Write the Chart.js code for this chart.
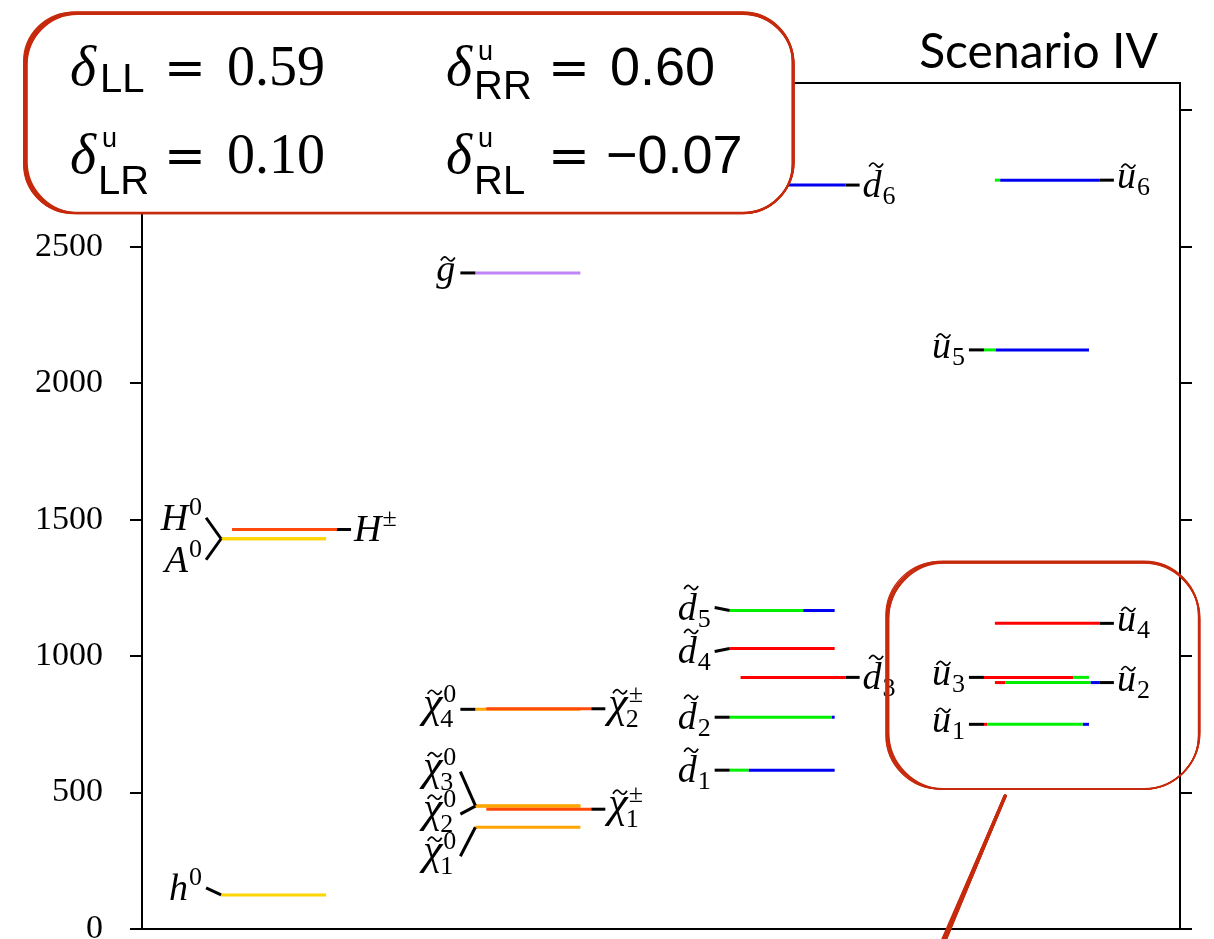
<!DOCTYPE html>
<html>
<head>
<meta charset="utf-8">
<title>Scenario IV</title>
<script src="https://cdn.jsdelivr.net/npm/chart.js@4.4.0/dist/chart.umd.min.js"></script>
<style>
  html, body { margin: 0; padding: 0; background: #fff; }
  canvas { display: block; }
</style>
</head>
<body>
<canvas id="myChart" width="1214" height="939"></canvas>
<script>
// mass spectrum, GeV
const particles = ['h0', 'H0', 'A0', 'Hpm', 'chi10', 'chi20', 'chi30', 'chi40', 'chi1pm', 'chi2pm', 'gluino',
  'd1', 'd2', 'd3', 'd4', 'd5', 'd6', 'u1', 'u2', 'u3', 'u4', 'u5', 'u6'];
const masses = [125, 1430, 1430, 1464, 373, 450, 452, 805, 439, 807, 2404,
  582, 776, 922, 1028, 1167, 2726, 750, 903, 922, 1120, 2122, 2744];
const column = [0, 0, 0, 0, 1, 1, 1, 1, 1, 1, 1, 2, 2, 2, 2, 2, 2, 3, 3, 3, 3, 3, 3];
const kind = ['Hn', 'Hn', 'Hn', 'Hc', 'N', 'N', 'N', 'N', 'C', 'C', 'g',
  'sq', 'sq', 'sq', 'sq', 'sq', 'sq', 'sq', 'sq', 'sq', 'sq', 'sq', 'sq'];
// squark flavour content (red / green / blue parts of the line)
const fracR = [0, 0, 0, 0, 0, 0, 0, 0, 0, 0, 0, 0, 0, 1, 1, 0, 0, 0.03, 0.10, 0.85, 1, 0, 0];
const fracG = [0, 0, 0, 0, 0, 0, 0, 0, 0, 0, 0, 0.18, 0.97, 0, 0, 0.70, 0, 0.91, 0.81, 0.15, 0, 0.11, 0.05];
const fracB = [0, 0, 0, 0, 0, 0, 0, 0, 0, 0, 0, 0.82, 0.03, 0, 0, 0.30, 1, 0.06, 0.09, 0, 0, 0.89, 0.95];

// label text
const labelBase = ['h', 'H', 'A', 'H', 'χ', 'χ', 'χ', 'χ', 'χ', 'χ', 'g',
  'd', 'd', 'd', 'd', 'd', 'd', 'u', 'u', 'u', 'u', 'u', 'u'];
const labelSub = ['', '', '', '', '1', '2', '3', '4', '1', '2', '',
  '1', '2', '3', '4', '5', '6', '1', '2', '3', '4', '5', '6'];
const labelSup = ['0', '0', '0', '±', '0', '0', '0', '0', '±', '±', '',
  '', '', '', '', '', '', '', '', '', '', '', ''];

const yTicks = [0, 500, 1000, 1500, 2000, 2500, 3000];
const deltas = [['LL', '', '0.59'], ['RR', 'u', '0.60'], ['LR', 'u', '0.10'], ['RL', 'u', '−0.07']];

// layout
const rightLabelled = ['Hpm', 'chi1pm', 'chi2pm', 'd3', 'd6', 'u2', 'u4', 'u6'];
const labelDy = { h0: -7, H0: -21, A0: 21, chi10: 29, chi20: 8, chi30: -34, d4: 3, d5: -3 };
const LEN = 0.413, SHIFT = 0.043;
const kindColor = { Hn: '#FFD400', Hc: '#FF4A0A', N: '#FFA500', C: '#FF4A0A', g: '#C084F8' };
const RGB = ['#FF0000', '#00F000', '#0000F0'];

const datasets = [];
particles.forEach((p, i) => {
  const right = rightLabelled.includes(p);
  const x0 = column[i] + (right ? SHIFT : 0);
  let parts;
  if (kind[i] === 'sq') {
    parts = [[RGB[0], fracR[i]], [RGB[1], fracG[i]], [RGB[2], fracB[i]]].filter(s => s[1] > 0);
  } else {
    parts = [[kindColor[kind[i]], 1]];
  }
  let x = x0;
  parts.forEach(s => {
    const x1 = x + s[1] * LEN;
    datasets.push({
      data: [{ x: x, y: masses[i] }, { x: x1, y: masses[i] }],
      borderColor: s[0],
      borderWidth: 3,
      borderCapStyle: 'butt',
      showLine: true,
      pointRadius: 0,
      order: right ? 0 : 1
    });
    x = x1;
  });
});

function drawTilde(ctx, cx, cy, w) {
  ctx.save();
  ctx.lineWidth = 1.7;
  ctx.strokeStyle = '#000';
  ctx.beginPath();
  ctx.moveTo(cx - w / 2, cy + 1.5);
  ctx.bezierCurveTo(cx - w / 4, cy - 4, cx - w / 8, cy - 2, cx, cy);
  ctx.bezierCurveTo(cx + w / 8, cy + 2, cx + w / 4, cy + 4, cx + w / 2, cy - 1.5);
  ctx.stroke();
  ctx.restore();
}

function drawMath(ctx, x, y, i, align) {
  const base = labelBase[i], sub = labelSub[i], sup = labelSup[i];
  const bf = base === 'χ' ? 'italic 44px "Liberation Serif"' : 'italic 38px "Liberation Serif"';
  const sf = '26px "Liberation Serif"';
  ctx.font = bf;
  const bw = ctx.measureText(base).width;
  ctx.font = sf;
  const sw = Math.max(ctx.measureText(sub).width, ctx.measureText(sup).width);
  const x0 = align === 'right' ? x - (bw + 1 + sw) : x;
  const asc = 'hHAd'.includes(base);
  const bl = y + (asc ? 12 : 8);
  ctx.fillStyle = '#000';
  ctx.textAlign = 'left';
  ctx.textBaseline = 'alphabetic';
  ctx.font = bf;
  ctx.fillText(base, x0, bl);
  ctx.font = sf;
  if (sup) ctx.fillText(sup, x0 + bw + 1, bl - 15);
  if (sub) ctx.fillText(sub, x0 + bw + 1 - (base === 'χ' ? 3 : 0), bl + (sup ? 10 : 7));
  if ('χgdu'.includes(base)) {
    drawTilde(ctx, x0 + bw / 2 + (asc ? 4 : 2), bl - (asc ? 32 : base === 'χ' ? 25 : 22), 14);
  }
}

const labelsPlugin = {
  id: 'labels',
  afterDatasetsDraw(chart) {
    const ctx = chart.ctx, xs = chart.scales.x, ys = chart.scales.y;
    ctx.save();
    particles.forEach((p, i) => {
      const right = rightLabelled.includes(p);
      const x0 = column[i] + (right ? SHIFT : 0);
      const y = ys.getPixelForValue(masses[i]);
      const dy = labelDy[p] || 0;
      ctx.strokeStyle = '#000';
      ctx.lineWidth = 3;
      ctx.lineCap = 'butt';
      ctx.beginPath();
      if (right) {
        const xe = xs.getPixelForValue(x0 + LEN);
        ctx.moveTo(xe, y);
        ctx.lineTo(xe + 14, y + dy);
        ctx.stroke();
        drawMath(ctx, xe + 17, y + dy, i, 'left');
      } else {
        const xb = xs.getPixelForValue(x0);
        ctx.moveTo(xb - 15, y + dy);
        ctx.lineTo(xb, y);
        ctx.stroke();
        drawMath(ctx, xb - 19, y + dy, i, 'right');
      }
    });
    ctx.restore();
  }
};

function sketchBox(ctx, x, y, w, h, r, fill, lw) {
  const offs = [[0, 0], [0.8, 0.6], [-0.7, 0.9], [0.5, -0.8], [1.3, 1.2], [-1.1, -0.4], [1.8, 0.2]];
  ctx.save();
  if (fill) {
    ctx.fillStyle = '#fff';
    ctx.beginPath();
    ctx.roundRect(x, y, w, h, r);
    ctx.fill();
  }
  ctx.strokeStyle = '#C62A0C';
  ctx.lineWidth = lw;
  offs.forEach(o => {
    ctx.beginPath();
    ctx.roundRect(x + o[0], y + o[1], w - o[0] * 0.5, h - o[1] * 0.7, r + o[0]);
    ctx.stroke();
  });
  ctx.restore();
}

const decorPlugin = {
  id: 'decor',
  afterDraw(chart) {
    const ctx = chart.ctx;
    // title
    ctx.save();
    ctx.fillStyle = '#000';
    ctx.font = '48px Lato';
    ctx.textAlign = 'right';
    ctx.textBaseline = 'alphabetic';
    ctx.fillText('Scenario IV', 1158, 68);
    ctx.restore();

    sketchBox(ctx, 25, 13, 768, 200, 50, true, 1.8);
    sketchBox(ctx, 887, 562, 312, 227, 55, false, 1.3);

    // pointer stroke
    ctx.save();
    ctx.strokeStyle = '#C62A0C';
    ctx.lineCap = 'round';
    [[0, 3], [1.5, 3], [-1, 2.5], [2.5, 2], [0.8, 3.5], [3.2, 1.5]].forEach(o => {
      ctx.lineWidth = o[1];
      ctx.beginPath();
      ctx.moveTo(1005 + o[0] * 0.2, 796);
      ctx.lineTo(941 + o[0], 945);
      ctx.stroke();
    });
    ctx.restore();

    // delta box text
    const rows = [[85, 92, 60], [173, 187, 147]];
    const cols = [70, 446];
    ctx.save();
    ctx.fillStyle = '#000';
    ctx.textAlign = 'left';
    ctx.textBaseline = 'alphabetic';
    deltas.forEach((d, k) => {
      const r = rows[Math.floor(k / 2)], cx = cols[k % 2];
      ctx.font = 'italic 56px "Liberation Serif"';
      ctx.fillText('δ', cx, r[0]);
      ctx.font = '27px "Liberation Sans"';
      if (d[1]) ctx.fillText(d[1], cx + 32, r[2]);
      ctx.font = '40px "Liberation Sans"';
      ctx.fillText(d[0], cx + (d[1] ? 28 : 30), d[1] ? r[1] + 7 : r[1]);
      ctx.font = '50px "DejaVu Serif"';
      ctx.fillText('=', cx + (k % 2 ? 102 : 94), r[0]);
      if (d[2] === '0.59' || d[2] === '0.10') {
        ctx.font = '56px "Liberation Serif"';
        ctx.fillText(d[2], cx + 157, r[0]);
      } else {
        ctx.font = '54px "Liberation Sans"';
        ctx.fillText(d[2], cx + (d[2][0] === '−' ? 160 : 164), r[0]);
      }
    });
    ctx.restore();
  }
};

const axisCommon = {
  min: 0, max: 3100,
  border: { display: true, color: '#000', width: 2 }
};

function fixPadding(s) {
  s.paddingTop = 0;
  s.paddingBottom = 0;
  s.paddingLeft = 0;
  s.paddingRight = 0;
}

new Chart(document.getElementById('myChart'), {
  type: 'scatter',
  data: { datasets: datasets },
  options: {
    responsive: false,
    animation: false,
    layout: { padding: 0 },
    plugins: { legend: { display: false }, tooltip: { enabled: false } },
    scales: {
      x: {
        type: 'linear', position: 'bottom', min: -0.311, max: 3.771,
        ticks: { display: false },
        grid: { drawOnChartArea: false, drawTicks: false },
        border: { display: true, color: '#000', width: 2 },
        afterFit: s => { s.height = 10; fixPadding(s); }
      },
      xTop: {
        type: 'linear', position: 'top', min: -0.311, max: 3.771,
        ticks: { display: false },
        grid: { drawOnChartArea: false, drawTicks: false },
        border: { display: true, color: '#000', width: 2 },
        afterFit: s => { s.height = 83; fixPadding(s); }
      },
      y: {
        ...axisCommon,
        position: 'left',
        afterBuildTicks: s => { s.ticks = yTicks.map(v => ({ value: v })); },
        ticks: {
          color: '#000', padding: 27,
          font: { family: 'Liberation Serif', size: 34 },
          callback: v => String(v)
        },
        grid: { drawOnChartArea: false, drawTicks: true, tickLength: 12, color: '#000', lineWidth: 2 },
        afterFit: s => { s.width = 142; fixPadding(s); }
      },
      yRight: {
        ...axisCommon,
        position: 'right',
        afterBuildTicks: s => { s.ticks = yTicks.map(v => ({ value: v })); },
        ticks: { display: false },
        grid: { drawOnChartArea: false, drawTicks: true, tickLength: 12, color: '#000', lineWidth: 2 },
        afterFit: s => { s.width = 34; fixPadding(s); }
      }
    }
  },
  plugins: [labelsPlugin, decorPlugin]
});
</script>
</body>
</html>
